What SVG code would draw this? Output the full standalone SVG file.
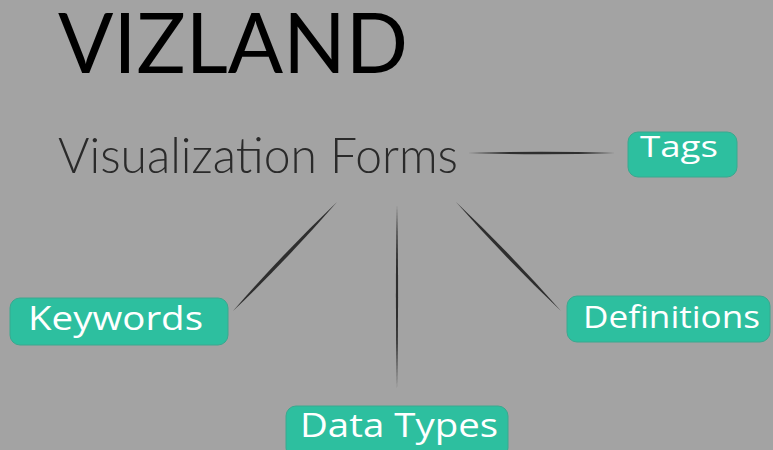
<svg xmlns="http://www.w3.org/2000/svg" width="773" height="450" viewBox="0 0 773 450">
<style>
.bg{fill:#a3a3a3}
.box{fill:#2dbf9f;stroke:#3aa88f;stroke-width:1}
.lbl{font-family:"Open Sans","Liberation Sans",sans-serif;fill:#ffffff;font-weight:400}
.conn{fill:#2e2e2e}
.title{font-family:Lato,"Liberation Sans",sans-serif;fill:#000000}
.sub{font-family:Lato,"Liberation Sans",sans-serif;font-weight:300;fill:#2a2a2a}
</style>
<rect class="bg" x="0" y="0" width="773" height="450"/>
<g id="title">
<text class="title" x="58" y="73" font-size="84" textLength="350" lengthAdjust="spacingAndGlyphs">VIZLAND</text>
</g>
<g id="connectors">
<path class="conn" d="M468,153 Q541.5,150.5 615,153 Q541.5,155.5 468,153 Z"/>
<path class="conn" d="M337,202 Q287.6,259 233,311 Q282.4,254 337,202 Z"/>
<path class="conn" d="M397,205 Q399.2,296.5 397,388 Q394.8,296.5 397,205 Z"/>
<path class="conn" d="M456,202 Q510.9,254 561,311 Q506.1,259 456,202 Z"/>
</g>
<g id="visualization-forms">
<text class="sub" x="58" y="173" font-size="50" textLength="400" lengthAdjust="spacingAndGlyphs">Visualization Forms</text>
</g>
<g id="tags">
<rect class="box" x="628" y="132" width="109" height="45" rx="10"/>
<text class="lbl" x="640" y="157" font-size="30" textLength="78" lengthAdjust="spacingAndGlyphs">Tags</text>
</g>
<g id="keywords">
<rect class="box" x="10" y="298" width="218" height="47" rx="10"/>
<text class="lbl" x="28" y="330" font-size="32" textLength="175" lengthAdjust="spacingAndGlyphs">Keywords</text>
</g>
<g id="definitions">
<rect class="box" x="567" y="296" width="203" height="46" rx="10"/>
<text class="lbl" x="583" y="328" font-size="31" textLength="177" lengthAdjust="spacingAndGlyphs">Definitions</text>
</g>
<g id="data-types">
<rect class="box" x="286" y="406" width="222" height="52" rx="10"/>
<text class="lbl" x="300" y="437" font-size="32" textLength="198" lengthAdjust="spacingAndGlyphs">Data Types</text>
</g>
</svg>
